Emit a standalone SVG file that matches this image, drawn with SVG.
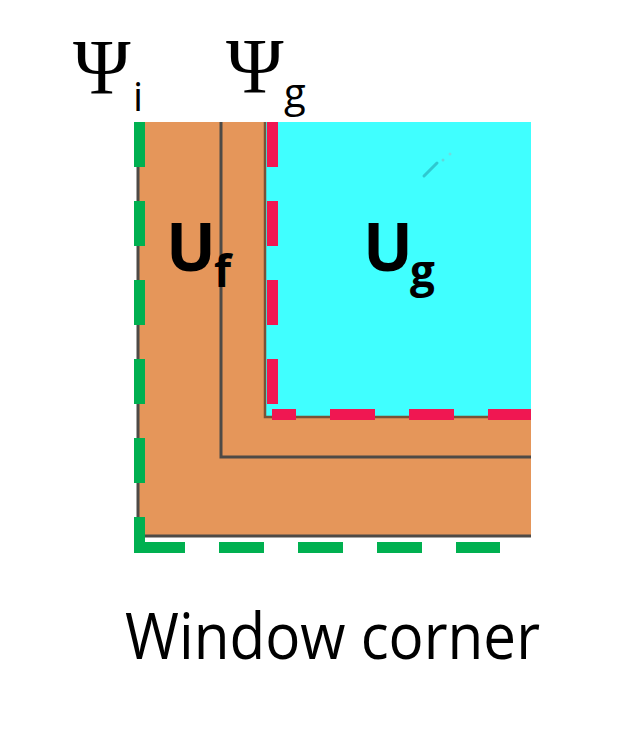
<svg xmlns="http://www.w3.org/2000/svg" width="628" height="732" viewBox="0 0 628 732">
  <style>
    .psi { font-family: "Liberation Serif", "DejaVu Serif", serif; font-size: 78px; fill: #000; }
    .sub { font-family: "Open Sans", "Liberation Sans", sans-serif; font-size: 40px; fill: #000; }
    .ub { font-family: "Open Sans", "Liberation Sans", sans-serif; font-weight: bold; font-size: 66px; fill: #000; }
    .ubs { font-family: "Open Sans", "Liberation Sans", sans-serif; font-weight: bold; font-size: 44px; fill: #000; }
    .cap { font-family: "Open Sans", "Liberation Sans", sans-serif; font-size: 64px; fill: #000; }
    .edge { fill: none; stroke: #4e4a46; stroke-width: 3; }
    .green { fill: none; stroke: #00B050; stroke-width: 11; stroke-dasharray: 45 34; }
    .red { fill: none; stroke: #F01752; stroke-width: 11; stroke-dasharray: 45 34; }
  </style>
  <rect width="628" height="732" fill="#ffffff"/>

  <g id="frame">
    <rect x="138" y="122" width="393" height="414" fill="#E5965A"/>
    <path class="edge" d="M138 122 V536 H531"/>
  </g>

  <g id="inner-frame">
    <path class="edge" d="M221 122 V457 H531"/>
  </g>

  <g id="glazing">
    <rect x="265" y="122" width="266" height="295" fill="#40FFFF"/>
    <path d="M265 122 V417 H531" fill="none" stroke="#7a5236" stroke-width="2.5"/>
    <path d="M424 176 L437 163" stroke="#2fc8d0" stroke-width="3" stroke-linecap="round"/>
    <circle cx="443" cy="160" r="1.5" fill="#5fd8dc"/>
    <circle cx="450" cy="154" r="1.5" fill="#6fdce0"/>
  </g>

  <g id="connectors">
    <path class="red" d="M272.5 122 V404"/>
    <path class="red" d="M272 414.5 H531" stroke-dashoffset="21"/>
    <path class="green" d="M139.5 122 V553"/>
    <path class="green" d="M140 547.5 H500"/>
  </g>

  <g id="label-psi-i">
    <text class="psi" x="73" y="93">Ψ</text>
    <text class="sub" x="133" y="111">i</text>
  </g>
  <g id="label-psi-g">
    <text class="psi" x="226" y="92">Ψ</text>
    <text class="sub" x="284" y="107">g</text>
  </g>
  <g id="label-uf">
    <text class="ub" x="166" y="271">U</text>
    <text class="ubs" x="214" y="287">f</text>
  </g>
  <g id="label-ug">
    <text class="ub" x="363" y="271">U</text>
    <text class="ubs" x="410" y="287">g</text>
  </g>
  <g id="caption">
    <text class="cap" x="125" y="659" textLength="415" lengthAdjust="spacingAndGlyphs">Window corner</text>
  </g>
</svg>
